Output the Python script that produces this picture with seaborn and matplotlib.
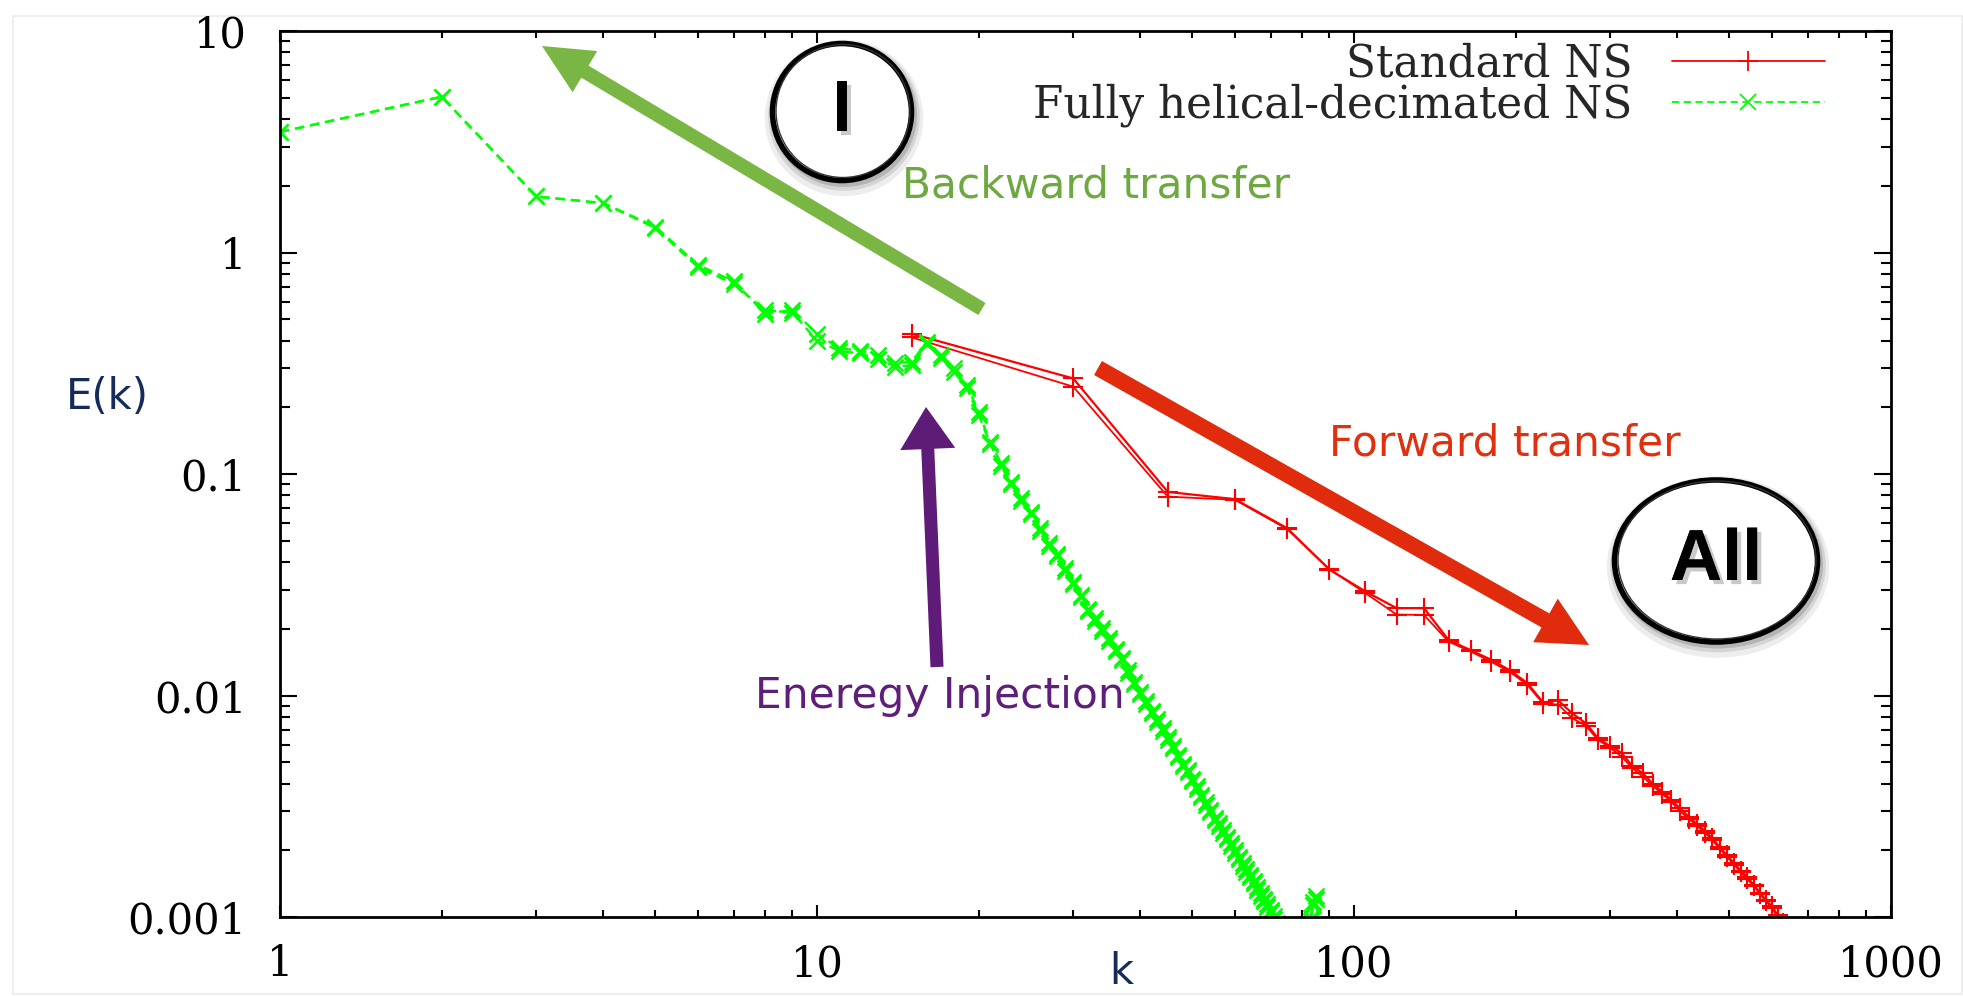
import matplotlib
matplotlib.use("Agg")
import matplotlib.pyplot as plt
import matplotlib.patheffects as pe
import seaborn as sns
import numpy as np
from matplotlib.patches import Ellipse, FancyArrow, Rectangle
from matplotlib.lines import Line2D
from matplotlib.ticker import FixedLocator, FixedFormatter, NullFormatter

# ---------------- data ----------------
red_k = [15, 30, 45, 60, 75, 90, 105, 120, 135, 150, 165, 180, 195, 210,
         225, 240, 255, 270, 285, 300, 315, 330, 345, 360, 375, 390, 405,
         420, 435, 450, 465, 480, 495, 510, 525, 540, 555, 570, 585, 600,
         615, 630]
red_E_a = [0.43, 0.27, 0.083, 0.077, 0.057, 0.037, 0.0295, 0.0248, 0.0248,
           0.0178, 0.0160, 0.0145, 0.0130, 0.0114, 0.0093, 0.0095, 0.0083,
           0.0075, 0.0064, 0.0059, 0.0055, 0.0048, 0.00445, 0.0040, 0.00368,
           0.00337, 0.00309, 0.00284, 0.00263, 0.00245, 0.00227, 0.00206,
           0.0019, 0.00175, 0.00162, 0.00151, 0.0014, 0.00129, 0.00119,
           0.00112, 0.00102, 0.00094]
red_E_b = [0.414, 0.248, 0.079, 0.0765, 0.0565, 0.0372, 0.0290, 0.0232,
           0.0231, 0.0175, 0.0158, 0.0142, 0.0128, 0.0112, 0.0092, 0.0091,
           0.0079, 0.0073, 0.0063, 0.0058, 0.0053, 0.0047, 0.0043, 0.0039,
           0.0036, 0.0033, 0.0030, 0.00278, 0.00258, 0.0024, 0.00222,
           0.00203, 0.00187, 0.00172, 0.0016, 0.00148, 0.00138, 0.00127,
           0.00118, 0.0011, 0.0010, 0.00093]

green_k = [1, 2, 3, 4, 5, 6, 7, 8, 9, 10, 11, 12, 13, 14, 15, 16, 17, 18, 19,
           20, 21, 22, 23, 24, 25, 26, 27, 28, 29, 30, 31, 32, 33, 34, 35, 36,
           37, 38, 39, 40, 41, 42, 43, 44, 45, 46, 47, 48, 49, 50, 51, 52, 53,
           54, 55, 56, 57, 58, 59, 60, 61, 62, 63, 64, 65, 66, 67, 68, 69, 70,
           71, 72, 83, 84, 85, 86]
green_E_a = [3.5, 5.05, 1.79, 1.67, 1.31, 0.88, 0.74, 0.53, 0.55, 0.43, 0.37,
             0.36, 0.345, 0.318, 0.32, 0.395, 0.345, 0.30, 0.253, 0.19, 0.14,
             0.112, 0.092, 0.078, 0.0676, 0.057, 0.0486, 0.0435, 0.0375,
             0.0327, 0.0284, 0.0247, 0.0223, 0.0201, 0.0181, 0.0163, 0.0147,
             0.013, 0.0115, 0.0104, 0.0094, 0.0085, 0.0078, 0.0071, 0.0065,
             0.0059, 0.0054, 0.0049, 0.0046, 0.0042, 0.0039, 0.00355, 0.0033,
             0.00304, 0.0028, 0.00265, 0.00247, 0.0023, 0.00215, 0.0020,
             0.00187, 0.00175, 0.00165, 0.00155, 0.00146, 0.00137, 0.00129,
             0.00121, 0.00114, 0.00108, 0.00101, 0.00094, 0.00099, 0.00117,
             0.00124, 0.00092]
green_E_b = [3.5, 5.05, 1.79, 1.67, 1.29, 0.86, 0.72, 0.55, 0.535, 0.40, 0.36,
             0.35, 0.33, 0.305, 0.31, 0.385, 0.335, 0.29, 0.245, 0.185, 0.137,
             0.109, 0.090, 0.0755, 0.066, 0.0555, 0.0475, 0.0425, 0.0365,
             0.032, 0.0278, 0.0241, 0.0218, 0.0196, 0.0177, 0.0159, 0.0144,
             0.0127, 0.0113, 0.0102, 0.0092, 0.0083, 0.0076, 0.0069, 0.0063,
             0.0058, 0.0053, 0.0048, 0.0045, 0.0041, 0.0038, 0.00347, 0.0032,
             0.00297, 0.00274, 0.00258, 0.0024, 0.00224, 0.0021, 0.00195,
             0.00182, 0.0017, 0.0016, 0.00151, 0.00142, 0.00133, 0.00125,
             0.00118, 0.00111, 0.00105, 0.00098, 0.00092, 0.00096, 0.00113,
             0.0012, 0.0009]

series_labels = ["Standard NS", "Fully helical-decimated NS"]
x_ticks = [1, 10, 100, 1000]
x_tick_labels = ["1", "10", "100", "1000"]
y_ticks = [0.001, 0.01, 0.1, 1, 10]
y_tick_labels = ["0.001", "0.01", "0.1", "1", "10"]

RED = "#ff0000"
GREEN = "#00ff00"
NAVY = "#142b5c"

# ---------------- figure ----------------
sns.set_theme(style="ticks")
plt.rcParams["font.family"] = ["DejaVu Serif"]

W, H = 1963, 996
fig = plt.figure(figsize=(W / 100, H / 100), dpi=100)
fig.patch.set_facecolor("white")
ax = fig.add_axes([280 / W, 1 - 917 / H, (1891 - 280) / W, (917 - 31) / H])
ax.set_facecolor("white")
ax.set_xscale("log")
ax.set_yscale("log")

GREEN_DASH = (0, (4, 2.5))
sns.lineplot(x=red_k, y=red_E_b, ax=ax, color=RED, linewidth=1.3, marker="+",
             markersize=15, markeredgewidth=1.5, markeredgecolor=RED,
             estimator=None, sort=False, legend=False)
sns.lineplot(x=red_k, y=red_E_a, ax=ax, color=RED, linewidth=1.6, marker="+",
             markersize=15, markeredgewidth=1.5, markeredgecolor=RED,
             estimator=None, sort=False, legend=False)
sns.lineplot(x=green_k, y=green_E_b, ax=ax, color=GREEN, linewidth=1.7,
             linestyle=GREEN_DASH, marker="x", markersize=12,
             markeredgewidth=1.8, markeredgecolor=GREEN,
             estimator=None, sort=False, legend=False)
sns.lineplot(x=green_k, y=green_E_a, ax=ax, color=GREEN, linewidth=1.7,
             linestyle=GREEN_DASH, marker="x", markersize=12,
             markeredgewidth=1.8, markeredgecolor=GREEN,
             estimator=None, sort=False, legend=False)

ax.set_xlim(1, 1000)
ax.set_ylim(0.001, 10)
ax.xaxis.set_major_locator(FixedLocator(x_ticks))
ax.xaxis.set_major_formatter(FixedFormatter(x_tick_labels))
ax.yaxis.set_major_locator(FixedLocator(y_ticks))
ax.yaxis.set_major_formatter(FixedFormatter(y_tick_labels))
ax.xaxis.set_minor_formatter(NullFormatter())
ax.yaxis.set_minor_formatter(NullFormatter())
ax.set_xlabel("")
ax.set_ylabel("")

for s in ax.spines.values():
    s.set_linewidth(2.0)
    s.set_color("black")
    s.set_visible(True)
ax.tick_params(axis="both", which="both", direction="in", top=True,
               right=True, colors="black")
ax.tick_params(axis="y", which="major", length=12, width=1.5, pad=24,
               labelsize=30)
ax.tick_params(axis="y", which="minor", length=7, width=1.5)
ax.tick_params(axis="x", which="major", length=8.5, width=1.5, pad=19,
               labelsize=30)
ax.tick_params(axis="x", which="minor", length=5, width=1.5)

# legend (gnuplot style: text then sample)
h_red = Line2D([], [], color=RED, lw=1.3, marker="+", ms=15, mew=1.3)
h_green = Line2D([], [], color=GREEN, lw=1.3, ls=(0, (4, 2.5)), marker="x",
                 ms=11, mew=1.3)
ax.legend([h_red, h_green], series_labels, loc="upper right",
          bbox_to_anchor=(0.959, 0.987), frameon=False, markerfirst=False,
          handlelength=3.5, handletextpad=0.9, labelspacing=-0.06,
          borderpad=0, borderaxespad=0, fontsize=31.5, numpoints=1)

# axis labels
fig.text(107 / W, 1 - 397 / H, "E(k)", ha="center", va="center", color=NAVY,
         fontsize=30, family="DejaVu Sans")
fig.text(1121 / W, 1 - 972 / H, "k", ha="center", va="center", color=NAVY,
         fontsize=30, family="DejaVu Sans")

# annotations
fig.text(902 / W, 1 - 198 / H, "Backward transfer", ha="left",
         va="baseline", color="#6ea840", fontsize=30.5, family="DejaVu Sans")
fig.text(1329 / W, 1 - 455 / H, "Forward transfer", ha="left",
         va="baseline", color="#e0300f", fontsize=30.5, family="DejaVu Sans")
fig.text(940 / W, 1 - 708 / H, "Eneregy Injection", ha="center",
         va="baseline", color="#5f1e7a", fontsize=30.5, family="DejaVu Sans",
         zorder=3)


def arrow(x0, y0, x1, y1, width, hw, hl, color):
    a = FancyArrow(x0 / 100, (H - y0) / 100, (x1 - x0) / 100, -(y1 - y0) / 100,
                   width=width, head_width=hw, head_length=hl,
                   length_includes_head=True, color=color, lw=0,
                   transform=fig.dpi_scale_trans, zorder=4)
    fig.add_artist(a)


arrow(982, 309, 542, 46, 0.14, 0.48, 0.50, "#79b644")
arrow(1098, 368, 1589, 645, 0.16, 0.50, 0.50, "#e02b0c")
arrow(937, 667, 926, 407, 0.13, 0.55, 0.42, "#5e1b77")


def badge(cx, cy, w, h, label, size):
    for off, al, lw in [(6, 0.07, 14), (4, 0.10, 9), (3, 0.15, 5)]:
        sh = Ellipse(((cx + 2) / W, 1 - (cy + off) / H), w / W, h / H,
                     transform=fig.transFigure, facecolor="none",
                     edgecolor="black", alpha=al, lw=lw, zorder=5)
        fig.add_artist(sh)
    e = Ellipse((cx / W, 1 - cy / H), w / W, h / H, transform=fig.transFigure,
                facecolor="white", edgecolor="black", lw=4.0, zorder=6)
    fig.add_artist(e)
    e2 = Ellipse(((cx + 1) / W, 1 - (cy - 1) / H), (w - 5) / W, (h - 4) / H,
                 transform=fig.transFigure, facecolor="none",
                 edgecolor="#333333", lw=1.0, zorder=6)
    fig.add_artist(e2)
    fig.text(cx / W, 1 - cy / H, label, ha="center", va="center",
             fontsize=size, fontweight="bold", family="Liberation Sans",
             color="black", zorder=8,
             path_effects=[pe.withSimplePatchShadow(offset=(3, -3),
                                                    shadow_rgbFace="#888888",
                                                    alpha=0.45),
                           pe.Normal()])


badge(842, 112, 139, 137, "I", 52)
badge(1716, 561, 203, 162, "All", 52)

# faint page border
fig.add_artist(Rectangle((13 / W, 0.002), (W - 14) / W, 1 - 16 / H - 0.002,
                         transform=fig.transFigure, facecolor="none",
                         edgecolor="#eeeeee", lw=1.5, zorder=-1))

fig.savefig("out.png", dpi=100, facecolor="white")
